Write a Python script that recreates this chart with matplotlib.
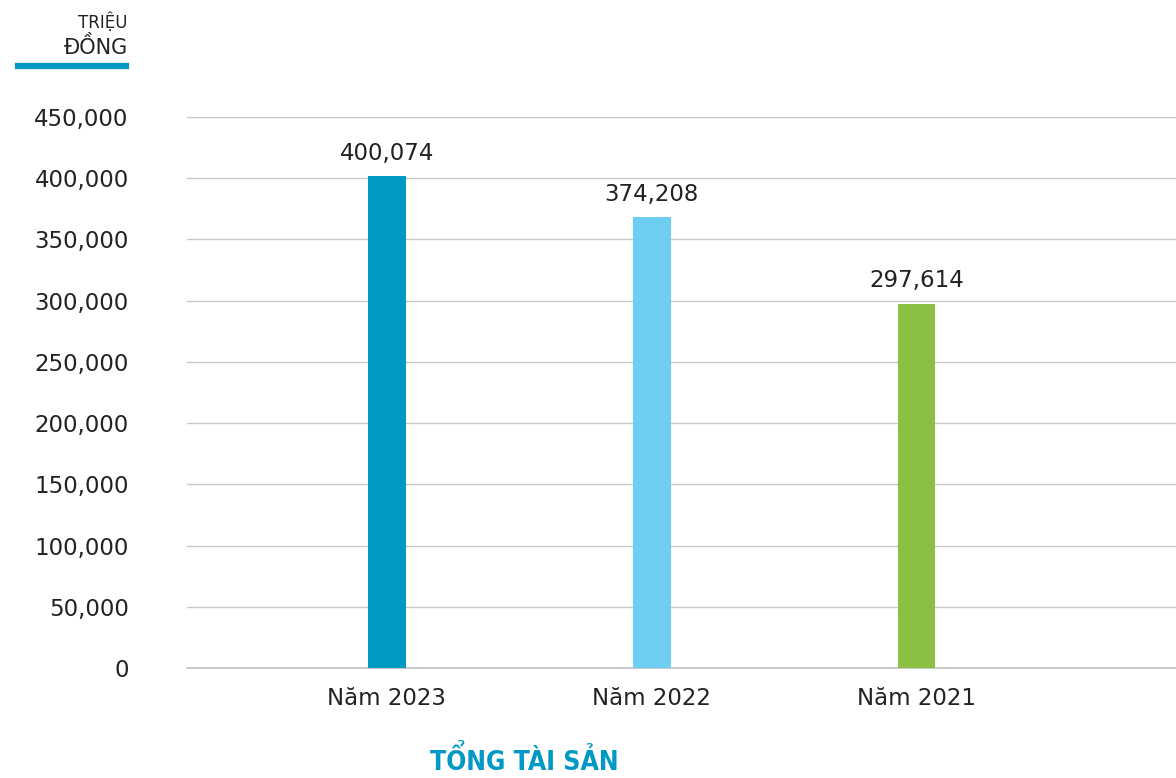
import matplotlib.pyplot as plt
import matplotlib.ticker as mticker

# du lieu
nam = ["Năm 2023", "Năm 2022", "Năm 2021"]
tong_tai_san = [401800, 368000, 297614]   # chieu cao cot doc tu hinh
nhan = ["400,074", "374,208", "297,614"]  # nhan ghi tren cot
mau = ["#009AC4", "#6DCEF2", "#8BC043"]
yticks = [0, 50000, 100000, 150000, 200000, 250000, 300000, 350000, 400000, 450000]

plt.rcParams['font.family'] = ['DejaVu Sans']

fig = plt.figure(figsize=(11.76, 7.78), dpi=100)
ax = fig.add_axes([187/1176, 110/778, 1 - 187/1176, 551/778])

x = range(len(nam))
bars = ax.bar(x, tong_tai_san, width=0.143, color=mau, zorder=3)
for b, t in zip(bars, nhan):
    ax.annotate(t, (b.get_x() + b.get_width()/2, b.get_height()),
                xytext=(0, 8), textcoords="offset points",
                ha="center", va="bottom", fontsize=16.5, color="#222222")

ax.set_ylim(0, 450000)
ax.set_xlim(-0.755, 2.98)
ax.set_yticks(yticks)
ax.yaxis.set_major_formatter(mticker.FuncFormatter(lambda v, p: "{:,.0f}".format(v)))
ax.set_xticks(list(x))
ax.set_xticklabels(nam)
ax.tick_params(axis="y", length=0, pad=42, labelsize=16.5, labelcolor="#222222")
ax.tick_params(axis="x", length=0, pad=14, labelsize=16.5, labelcolor="#222222")
ax.grid(axis="y", color="#c8c8c8", linewidth=1, zorder=0)
for s in ["top", "right", "left"]:
    ax.spines[s].set_visible(False)
ax.spines["bottom"].set_color("#bfbfbf")
ax.spines["bottom"].set_linewidth(1.2)

# don vi goc tren trai
fig.text(128/1176, 1 - 22/778, "TRIỆU", ha="right", va="center", fontsize=12, color="#222222")
fig.text(128/1176, 1 - 47/778, "ĐỒNG", ha="right", va="center", fontsize=15, color="#222222")
fig.add_artist(plt.Line2D([15/1176, 129/1176], [1 - 66/778, 1 - 66/778],
                          color="#0099C6", linewidth=4.5, solid_capstyle="butt"))

fig.text(524/1176, 1 - 761/778, "TỔNG TÀI SẢN", ha="center", va="center",
         fontsize=19, fontweight="bold", fontstretch="condensed", color="#0099C6")

fig.savefig("out.png", dpi=100)
